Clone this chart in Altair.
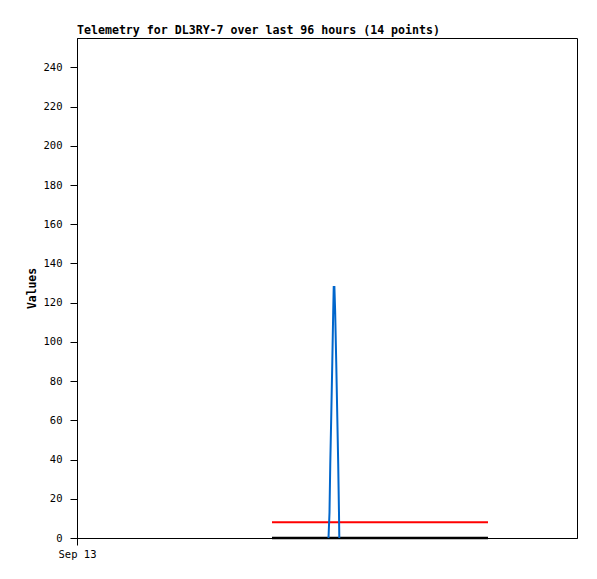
import altair as alt
import pandas as pd

# Blue channel (hours since Sep 13 00:00, value)
blue_hours = [48.29, 48.48, 48.63, 48.83, 49.02, 49.19, 49.29, 49.42, 49.57, 49.77, 49.96, 50.15, 50.30, 50.36]
blue_values = [0, 13, 38, 64, 90, 115, 128, 128, 115, 90, 64, 38, 13, 0]

# Red channel
red_hours = [37.44, 78.91]
red_values = [8, 8]

# Black channel
black_hours = [37.44, 78.91]
black_values = [0, 0]

x_tick_values = [0]
x_tick_labels = ["Sep 13"]
y_ticks = list(range(0, 241, 20))

title_text = "Telemetry for DL3RY-7 over last 96 hours (14 points)"

blue_df = pd.DataFrame({"h": blue_hours, "v": blue_values})
red_df = pd.DataFrame({"h": red_hours, "v": red_values})
black_df = pd.DataFrame({"h": black_hours, "v": black_values})

FONT = "DejaVu Sans Mono"

label_expr = " : ".join(
    [f"datum.value == {v} ? '{l}'" for v, l in zip(x_tick_values, x_tick_labels)]
) + " : ''"

x_enc = alt.X(
    "h:Q",
    scale=alt.Scale(domain=[0, 96], nice=False, zero=False),
    axis=alt.Axis(
        values=x_tick_values,
        labelExpr=label_expr,
        title=None,
        grid=False,
        tickSize=7,
        tickColor="black",
        domainColor="black",
        labelFont=FONT,
        labelFontSize=10.5,
        labelColor="black",
        labelPadding=4,
        labelFlush=False,
        labelAlign="center",
        labelOverlap=False,
    ),
)
y_enc = alt.Y(
    "v:Q",
    scale=alt.Scale(domain=[0, 255], nice=False),
    axis=alt.Axis(
        values=y_ticks,
        title="Values",
        grid=False,
        tickSize=7,
        tickColor="black",
        domainColor="black",
        labelFont=FONT,
        labelFontSize=10.5,
        labelColor="black",
        labelPadding=8,
        labelFlush=False,
        labelOverlap=False,
        titleFont=FONT,
        titleFontSize=11.4,
        titleFontWeight="bold",
        titleColor="black",
        titleX=-45,
        titleY=250,
        titleAngle=-90,
        titleAlign="center",
        titleBaseline="middle",
    ),
)

red = alt.Chart(red_df).mark_line(color="#ff0000", strokeWidth=2).encode(x=x_enc, y=y_enc)
black = alt.Chart(black_df).mark_line(color="black", strokeWidth=2.5).encode(x=x_enc, y=y_enc)
blue = alt.Chart(blue_df).mark_line(color="#0066cc", strokeWidth=2).encode(x=x_enc, y=y_enc)

chart = (
    alt.layer(red, black, blue)
    .properties(
        width=500,
        height=500,
        autosize="none",
        background="white",
        padding={"left": 69, "top": 30, "right": 12, "bottom": 33},
        title=alt.TitleParams(
            title_text,
            anchor="start",
            frame="group",
            font=FONT,
            fontSize=11.6,
            fontWeight="bold",
            color="black",
            offset=1,
        ),
    )
    .configure_view(stroke="#000000", strokeWidth=1)
)

chart.save("out.html", embed_options={"renderer": "svg", "actions": False})
